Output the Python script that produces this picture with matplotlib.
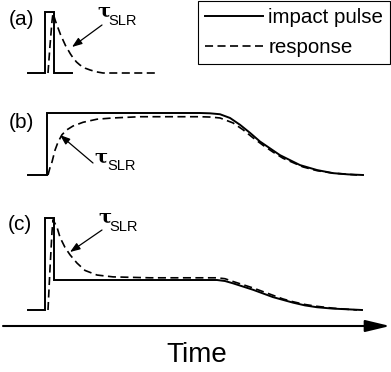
import matplotlib
matplotlib.use("Agg")
import matplotlib.pyplot as plt

# Schematic signals. Time is in arbitrary units
# (shared by all panels), amplitude is normalised to the impact-pulse peak.

# (a) short impact pulse
pulse_a_t = [28, 45, 45, 54, 54, 72]
pulse_a_v = [0, 0, 1, 1, 0, 0]
resp_a_t = [48, 50, 52, 53, 55.5, 58, 60.5, 63, 65.5, 68, 70.5, 73, 76.5, 80, 85, 90, 96, 103, 157]
resp_a_v = [0, 0.45, 0.85, 0.98, 0.85, 0.74, 0.63, 0.54, 0.45, 0.38, 0.31, 0.25, 0.18, 0.13, 0.08,
            0.05, 0.02, 0.0, 0.0]

# (b) long step pulse with slow release
pulse_b_t = [28, 47, 47, 200, 210, 220, 230, 240, 250, 260, 270, 280, 290, 300, 317, 333, 348, 363]
pulse_b_v = [0, 0, 1, 1, 0.995, 0.98, 0.92, 0.81, 0.68, 0.54, 0.43, 0.32, 0.24, 0.16, 0.08, 0.03,
             0.01, 0.0]
resp_b_t = [48, 50, 52, 55, 58, 62, 67, 73, 83, 97, 113, 140, 200, 210, 220, 233, 243, 253, 263,
            273, 283, 293, 303, 317, 333, 357]
resp_b_v = [0, 0.12, 0.21, 0.40, 0.53, 0.65, 0.73, 0.79, 0.85, 0.90, 0.92, 0.94, 0.94, 0.935,
            0.92, 0.84, 0.73, 0.60, 0.48, 0.37, 0.27, 0.20, 0.13, 0.07, 0.03, 0.0]

# (c) spike followed by a lower plateau
pulse_c_t = [28, 45, 45, 54, 54, 217, 225, 233, 243, 253, 263, 273, 283, 293, 305, 317, 333, 362]
pulse_c_v = [0, 0, 1, 1, 0.326, 0.326, 0.315, 0.29, 0.255, 0.22, 0.18, 0.14, 0.11, 0.08, 0.05,
             0.03, 0.015, 0.0]
resp_c_t = [48, 50, 52, 53, 57, 60, 65, 70, 77, 85, 97, 113, 150, 217, 225, 233, 243, 253, 263,
            273, 283, 293, 305, 317, 333, 357]
resp_c_v = [0, 0.45, 0.85, 0.98, 0.90, 0.79, 0.68, 0.60, 0.51, 0.43, 0.38, 0.36, 0.35, 0.35, 0.34,
            0.31, 0.275, 0.24, 0.20, 0.16, 0.12, 0.09, 0.06, 0.04, 0.02, 0.0]

panel_labels = ["(a)", "(b)", "(c)"]
legend_labels = ["impact pulse", "response"]
axis_label = "Time"

W, H, DPI = 391, 372, 100
SOLID_LW = 1.4
DASH_LW = 1.2
DASH = (0, (5.8, 3.2))

plt.rcParams["font.family"] = ["Liberation Sans", "DejaVu Sans"]
plt.rcParams["lines.scale_dashes"] = False

fig = plt.figure(figsize=(W / DPI, H / DPI), dpi=DPI)


def _panel(base_px, top_px):
    """Full-figure transparent axes where amplitude 0/1 land on base_px/top_px."""
    ax = fig.add_axes([0, 0, 1, 1])
    ax.set_xlim(0, W)
    span = base_px - top_px
    ax.set_ylim((base_px - H) / span, base_px / span)
    ax.axis("off")
    ax.patch.set_alpha(0)
    return ax


panels = [
    (_panel(73, 12), pulse_a_t, pulse_a_v, resp_a_t, resp_a_v),
    (_panel(175, 113), pulse_b_t, pulse_b_v, resp_b_t, resp_b_v),
    (_panel(310, 218), pulse_c_t, pulse_c_v, resp_c_t, resp_c_v),
]
handles = []
for ax, pt, pv, rt, rv in panels:
    h1, = ax.plot(pt, pv, color="black", lw=SOLID_LW, solid_joinstyle="miter")
    h2, = ax.plot(rt, rv, color="black", lw=DASH_LW, linestyle=DASH)
    if not handles:
        handles = [h1, h2]

# overlay in pixel coordinates for labels, arrows and the legend
over = fig.add_axes([0, 0, 1, 1])
over.set_xlim(0, W)
over.set_ylim(H, 0)
over.axis("off")
over.patch.set_alpha(0)

for label, (x, y) in zip(panel_labels, [(21, 19.5), (21, 122), (20, 225)]):
    over.text(x, y, label, fontsize=15, ha="center", va="center")

tau_pos = [((104, 12), (123, 21)), ((101, 158), (122, 166)), ((105, 218), (124, 227))]
tau_arrows = [((102, 25), (72, 47)), ((93, 163), (60, 135)), ((102, 230), (70, 252))]
for (tp, sp), (start, tip) in zip(tau_pos, tau_arrows):
    over.text(*tp, "\u03c4", fontsize=14, family="DejaVu Serif", fontweight="bold",
              ha="center", va="center")
    over.text(*sp, "SLR", fontsize=10.5, ha="center", va="center")
    over.annotate("", xy=tip, xytext=start,
                  arrowprops=dict(arrowstyle="-|>,head_length=0.6,head_width=0.22",
                                  mutation_scale=10, lw=0.9, color="black",
                                  shrinkA=0, shrinkB=0))

# time axis
over.annotate("", xy=(390, 326), xytext=(3, 326),
              arrowprops=dict(arrowstyle="-|>,head_length=1.5,head_width=0.36",
                              mutation_scale=10, lw=1.5, color="black",
                              shrinkA=0, shrinkB=0))
over.text(197, 362, axis_label, fontsize=20, ha="center", va="baseline")

leg = over.legend(handles, legend_labels, loc="upper right",
                  bbox_to_anchor=(390 / W, 1 - 1 / H), bbox_transform=fig.transFigure,
                  borderaxespad=0, fontsize=14.8, handlelength=2.85, handletextpad=0.25,
                  labelspacing=0.55, borderpad=0.33, fancybox=False, framealpha=1,
                  edgecolor="black")
leg.get_frame().set_linewidth(0.8)

fig.savefig("out.png", dpi=DPI)
